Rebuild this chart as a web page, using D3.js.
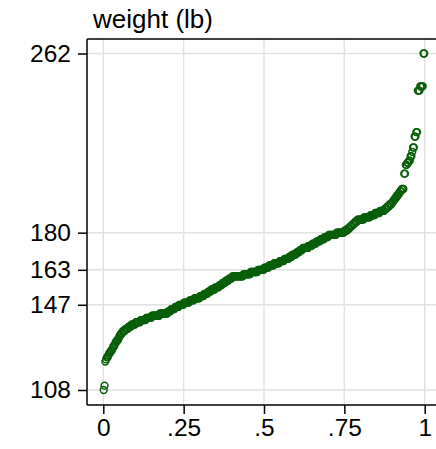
<!DOCTYPE html>
<html>
<head>
<meta charset="utf-8">
<script src="https://cdn.jsdelivr.net/npm/d3@7"></script>
<style>
  html, body { margin: 0; padding: 0; background: #fff; }
  svg { display: block; }
  text { font-family: "Liberation Sans", Arial, sans-serif; fill: #000; }
</style>
</head>
<body>
<svg id="chart" width="436" height="449"></svg>
<script>
// Distinct recorded body weights (lb) and how many people reported each
const weightValues = [
  108, 110, 121, 122, 123, 124, 125, 126, 127, 128,
  129, 130, 131, 132, 133, 134, 135, 136, 137, 138,
  139, 140, 141, 142, 143, 144, 145, 146, 147, 148,
  149, 150, 151, 152, 153, 154, 155, 156, 157, 158,
  159, 160, 161, 162, 163, 164, 165, 166, 167, 168,
  169, 170, 171, 172, 173, 174, 175, 176, 177, 178,
  179, 180, 181, 182, 183, 184, 185, 186, 187, 188,
  189, 190, 191, 192, 193, 194, 195, 196, 197, 198,
  199, 200, 207, 211, 212, 213, 215, 217, 219, 224,
  226, 245, 247, 262
];
const weightCounts = [
  1, 1, 1, 1, 2, 1, 2, 2, 1, 2,
  1, 2, 2, 1, 2, 2, 3, 4, 4, 5,
  6, 7, 7, 10, 10, 4, 5, 5, 6, 7,
  6, 7, 5, 5, 4, 5, 5, 4, 4, 4,
  4, 14, 9, 9, 8, 6, 6, 7, 6, 6,
  4, 5, 4, 4, 7, 5, 5, 5, 5, 5,
  10, 10, 4, 3, 3, 3, 3, 8, 8, 6,
  6, 6, 3, 3, 3, 2, 2, 2, 2, 2,
  2, 3, 2, 2, 2, 2, 2, 1, 2, 2,
  2, 3, 4, 2
];

// Axis ticks: min, quartiles, max on y; fractions on x
const yTicks = [108, 147, 163, 180, 262];
const xTicks = [0, 0.25, 0.5, 0.75, 1];
const xTickLabels = ["0", ".25", ".5", ".75", "1"];
const yTitle = "weight (lb)";

// one entry per observation, already in ascending order
const weights = weightValues.flatMap((w, k) => Array(weightCounts[k]).fill(w));
const n = weights.length;

const svg = d3.select("#chart");
const plot = { left: 87, top: 39, right: 440, bottom: 405 };

const x = d3.scaleLinear().domain([0, 1]).range([103.3, 424.7]);
const y = d3.scaleLinear().domain([108, 262]).range([390, 53.5]);

const gridColor = "#e1e1e1";
const markColor = "#075f07";
const fontSize = "24.5px";

// gridlines
svg.append("g").selectAll("line").data(xTicks).join("line")
  .attr("x1", d => x(d)).attr("x2", d => x(d))
  .attr("y1", plot.top).attr("y2", plot.bottom)
  .attr("stroke", gridColor).attr("stroke-width", 1.4);
svg.append("g").selectAll("line").data(yTicks).join("line")
  .attr("x1", plot.left).attr("x2", plot.right)
  .attr("y1", d => y(d)).attr("y2", d => y(d))
  .attr("stroke", gridColor).attr("stroke-width", 1.4);

// quantile points: i-th order statistic at (i - 0.5) / n
svg.append("g").selectAll("circle").data(weights).join("circle")
  .attr("cx", (d, i) => x((i + 0.5) / n))
  .attr("cy", d => y(d))
  .attr("r", 3.4)
  .attr("fill", "none")
  .attr("stroke", markColor)
  .attr("stroke-width", 1.5);

// plot region outline (top edge) and axes
svg.append("line")
  .attr("x1", plot.left).attr("x2", plot.right)
  .attr("y1", plot.top).attr("y2", plot.top)
  .attr("stroke", "#000").attr("stroke-width", 1.5);

const yAxis = d3.axisLeft(y).tickValues(yTicks).tickSize(9).tickPadding(7)
  .tickFormat(d3.format("d"));
const gy = svg.append("g").attr("transform", `translate(${plot.left},0)`).call(yAxis);
gy.select(".domain").remove();
gy.append("line").attr("x1", 0).attr("x2", 0)
  .attr("y1", plot.top).attr("y2", plot.bottom)
  .attr("stroke", "#000").attr("stroke-width", 1.5);

const xAxis = d3.axisBottom(x).tickValues(xTicks).tickSize(9).tickPadding(5)
  .tickFormat((d, i) => xTickLabels[i]);
const gx = svg.append("g").attr("transform", `translate(0,${plot.bottom})`).call(xAxis);
gx.select(".domain").remove();
gx.append("line").attr("x1", plot.left).attr("x2", plot.right)
  .attr("y1", 0).attr("y2", 0)
  .attr("stroke", "#000").attr("stroke-width", 1.5);

svg.selectAll(".tick line").attr("stroke", "#000").attr("stroke-width", 1.5);
svg.selectAll(".tick text")
  .style("font-family", '"Liberation Sans", Arial, sans-serif')
  .style("font-size", fontSize).attr("fill", "#000");

// axis title above the plot region
svg.append("text")
  .attr("x", 93).attr("y", 28)
  .style("font-size", "26px")
  .text(yTitle);
</script>
</body>
</html>
